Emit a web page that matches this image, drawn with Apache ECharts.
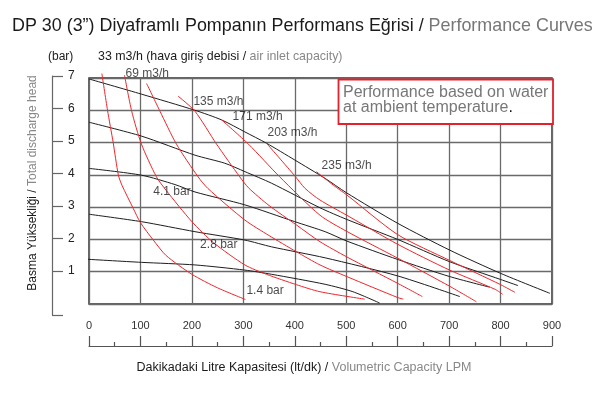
<!DOCTYPE html>
<html><head><meta charset="utf-8">
<script src="https://cdn.jsdelivr.net/npm/echarts@6/dist/echarts.min.js"></script>
<style>html,body{margin:0;padding:0;background:#fff}#c{width:600px;height:393px}</style>
</head><body><div id="c"></div>
<script>
// ---- data (LPM, bar) ----
const xTicks = [0,100,200,300,400,500,600,700,800,900];
const yTicks = [1,2,3,4,5,6,7];
// black: air inlet pressure curves
const p70 = [[0,6.97],[102,6.5],[206,6.0],[258,5.7],[303,5.33],[345,4.98],[400,4.46],[459,3.89],[500,3.45],[600,2.5],[701,1.67],[800,0.95],[896,0.33]];
const p55 = [[0,5.63],[102,5.2],[206,4.61],[264,4.36],[303,4.1],[355,3.74],[449,2.98],[501,2.62],[600,2.0],[701,1.31],[800,0.76],[834,0.57]];
const p41 = [[0,4.2],[102,3.99],[167,3.7],[206,3.47],[303,3.07],[400,2.55],[459,2.24],[501,1.95],[600,1.38],[701,0.85],[779,0.52]];
const p28 = [[0,2.78],[102,2.55],[206,2.24],[303,1.98],[355,1.77],[459,1.43],[600,0.87],[721,0.23]];
const p14 = [[-8,1.39],[102,1.29],[206,1.21],[303,1.05],[355,0.92],[459,0.61],[513,0.38],[565,0.03]];
// red: air consumption curves
const a33  = [[25,7.14],[36,6.0],[47,5.0],[57,4.0],[64,3.68],[86,2.96],[100,2.52],[125,1.98],[150,1.5],[200,0.92],[250,0.5],[304,0.14]];
const a69  = [[69,7.09],[83,5.97],[102,4.95],[131,3.94],[150,3.52],[200,2.55],[242,1.9],[303,1.21],[345,0.92],[403,0.6],[449,0.38],[536,0.15]];
const a100 = [[112,6.83],[138,5.97],[170,4.95],[212,3.94],[231,3.58],[303,2.6],[350,2.12],[403,1.62],[449,1.21],[501,0.85],[600,0.2],[611,0.15]];
const a135 = [[173,6.44],[206,5.97],[248,4.95],[293,3.94],[310,3.6],[350,3.05],[403,2.45],[449,1.93],[501,1.46],[600,0.64],[648,0.23]];
const a171 = [[258,5.7],[310,4.95],[370,3.95],[449,2.75],[501,2.25],[600,1.42],[701,0.55],[753,0.07]];
const a203 = [[345,4.98],[400,3.97],[420,3.58],[449,3.22],[501,2.75],[600,1.85],[701,1.05],[790,0.45],[804,0.3]];
const a235 = [[442,4.1],[475,3.68],[501,3.38],[600,2.15],[701,1.35],[800,0.6],[828,0.36]];
// curve labels
const labelTexts = ['69 m3/h','135 m3/h','171 m3/h','203 m3/h','235 m3/h','4.1 bar','2.8 bar','1.4 bar'];
const labelPos = [[71,7.12],[203,6.27],[279,5.8],[347,5.32],[452,4.27],[125,3.48],[216,1.85],[306,0.40]];

const blackCurves = [p70,p55,p41,p28,p14];
const redCurves = [a33,a69,a100,a135,a171,a203,a235];

const F = 'Liberation Sans, Arial, Helvetica, sans-serif';
const chart = echarts.init(document.getElementById('c'), null, {renderer:'canvas'});
const gridColor = '#6a6a6a';
const series = [];
blackCurves.forEach(d => series.push({type:'line', data:d, xAxisIndex:0, yAxisIndex:0, showSymbol:false, smooth:0.25, clip:false, silent:true, z:3,
  lineStyle:{color:'#1e1e1e', width:1}}));
redCurves.forEach(d => series.push({type:'line', data:d, xAxisIndex:0, yAxisIndex:0, showSymbol:false, smooth:0.25, clip:false, silent:true, z:3,
  lineStyle:{color:'#f0262c', width:1}}));
series.push({type:'scatter', xAxisIndex:0, yAxisIndex:0, symbolSize:0, clip:false, silent:true, z:5,
  data: labelPos.map((p,i)=>({value:p, name:labelTexts[i]})),
  label:{show:true, position:'right', distance:0, formatter: p=>p.name, color:'#1a1a1a', fontSize:12, fontFamily:F}});

chart.setOption({
  animation:false,
  backgroundColor:'#fff',
  grid:[
    {left:89, top:78, width:463, height:226, show:true, borderColor:'#333', borderWidth:1.5, backgroundColor:'transparent'},
    {left:52, top:76, width:10, height:239},
    {left:89, top:330, width:463, height:16}
  ],
  xAxis:[
    {type:'value', gridIndex:0, min:0, max:900, interval:100, axisLine:{show:false}, axisTick:{show:false}, axisLabel:{show:false},
      splitLine:{show:true, lineStyle:{color:gridColor, width:1.3}}},
    {type:'value', gridIndex:1, show:false, min:0, max:1},
    {type:'value', gridIndex:2, min:0, max:900, interval:100, position:'bottom',
      axisLine:{show:true, lineStyle:{color:'#555', width:1.2}},
      axisTick:{show:true, inside:true, length:10, lineStyle:{color:'#555', width:1.2}},
      minorTick:{show:true, splitNumber:2, length:4, lineStyle:{color:'#555', width:1.2}},
      axisLabel:{inside:true, margin:15, fontSize:11, color:'#333', fontFamily:F},
      splitLine:{show:false}}
  ],
  yAxis:[
    {type:'value', gridIndex:0, min:0, max:7, interval:1, axisLine:{show:false}, axisTick:{show:false}, axisLabel:{show:false},
      splitLine:{show:true, lineStyle:{color:gridColor, width:1.3}}},
    {type:'value', gridIndex:1, min:-0.354, max:7, position:'left',
      axisLine:{show:true, lineStyle:{color:'#666', width:1.2}},
      axisTick:{show:true, inside:true, length:11, customValues:[-0.354].concat(yTicks), lineStyle:{color:'#666', width:1.2}},
      axisLabel:{show:true, inside:true, margin:16, fontSize:12, color:'#222', fontFamily:F, customValues:yTicks},
      splitLine:{show:false}},
    {type:'value', gridIndex:2, show:false, min:0, max:1}
  ],
  series: series,
  graphic:[
    {type:'text', left:12, top:17, z:100, style:{text:'{a|DP 30 (3”) Diyaframlı Pompanın Performans Eğrisi / }{b|Performance Curves}',
      rich:{a:{fill:'#1a1a1a', fontSize:17.9, fontFamily:F}, b:{fill:'#777', fontSize:17.9, fontFamily:F}}}},
    {type:'text', x:48, y:57, z:100, style:{text:'(bar)', fill:'#222', fontSize:12, fontFamily:F, verticalAlign:'middle'}},
    {type:'text', x:98, y:57, z:100, style:{text:'{a|33 m3/h (hava giriş debisi / }{b|air inlet capacity)}', verticalAlign:'middle',
      rich:{a:{fill:'#1a1a1a', fontSize:12.4, fontFamily:F}, b:{fill:'#888', fontSize:12.4, fontFamily:F}}}},
    {type:'rect', z:100, shape:{x:338.5, y:79.5, width:214.5, height:44.5}, style:{fill:'#fff', stroke:'#e3202b', lineWidth:1.8}},
    {type:'text', x:343, y:93, z:101, style:{text:'Performance based on water', fill:'#777', fontSize:16, fontFamily:F, verticalAlign:'middle'}},
    {type:'text', x:343, y:108, z:101, style:{text:'{a|at ambient temperature}{b|.}', verticalAlign:'middle',
      rich:{a:{fill:'#777', fontSize:16, fontFamily:F}, b:{fill:'#111', fontSize:16, fontFamily:F}}}},
    {type:'text', x:33, y:183, rotation:Math.PI/2, z:100, style:{text:'{a|Basma Yüksekliği / }{b|Total discharge head}', align:'center', verticalAlign:'middle',
      rich:{a:{fill:'#1a1a1a', fontSize:12, fontFamily:F}, b:{fill:'#888', fontSize:12, fontFamily:F}}}},
    {type:'text', x:304, y:368, z:100, style:{text:'{a|Dakikadaki Litre Kapasitesi (lt/dk) / }{b|Volumetric Capacity LPM}', align:'center', verticalAlign:'middle',
      rich:{a:{fill:'#1a1a1a', fontSize:12.5, fontFamily:F}, b:{fill:'#888', fontSize:12.5, fontFamily:F}}}}
  ]
});
</script></body></html>
